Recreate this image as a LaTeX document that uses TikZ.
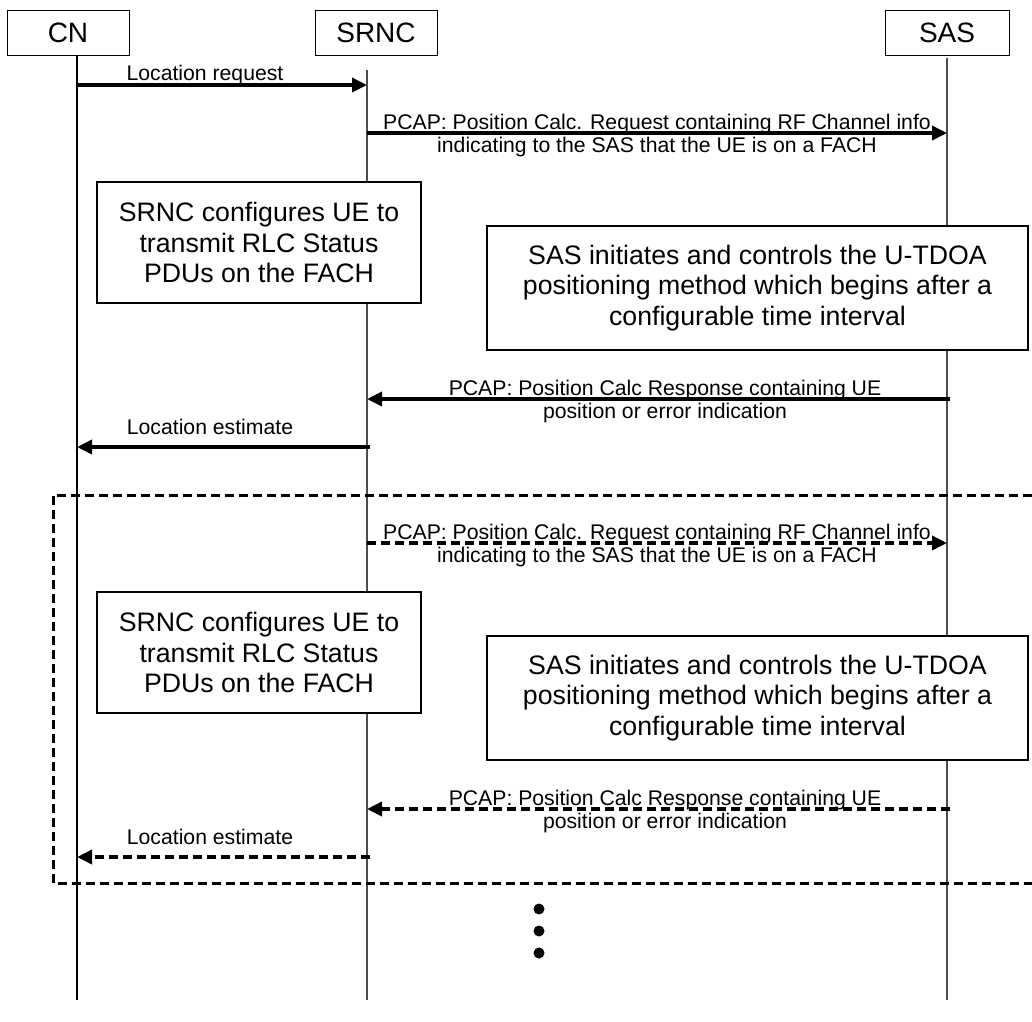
\documentclass[tikz,border=0pt]{standalone}
\usepackage{fontspec}
\setmainfont{Liberation Sans}
\usetikzlibrary{arrows.meta}
\tikzset{
  head/.style={draw, line width=1pt, minimum width=122pt, minimum height=45pt,
    inner sep=0pt, font=\fontsize{28}{32}\selectfont},
  life/.style={line width=1.2pt},
  note/.style={draw, fill=white, line width=1.5pt, inner sep=0pt, align=center,
    font=\fontsize{26.7}{30.5}\selectfont},
  lbl/.style={inner sep=0pt, anchor=base, align=center,
    font=\fontsize{21.2}{23}\selectfont},
  msg/.style={line width=3.5pt, -{Triangle[length=15pt,width=14pt]}},
  dmsg/.style={msg, dash pattern=on 9pt off 5pt},
  frame/.style={line width=3pt, dash pattern=on 9pt off 5pt},
  dot/.style={circle, fill, inner sep=0pt, minimum size=11pt}
}
\begin{document}
\begin{tikzpicture}[x=1pt,y=-1pt]
  \useasboundingbox (0,0) rectangle (1032,1021);
  % entities
  \node[head] (cn) at (68,32.5) {CN};
  \node[head] (srnc) at (376,32.5) {SRNC};
  \node[head, minimum width=124pt] (sas) at (947,32.5) {SAS};
  \coordinate (cntop) at (77,55);
  \coordinate (cnbot) at (77,1000);
  \coordinate (srnctop) at (367,70);
  \coordinate (srncbot) at (367,1000);
  \coordinate (sastop) at (947,58);
  \coordinate (sasbot) at (947,1000);
  \draw[life] (cntop) -- (cnbot);
  \draw[life, black!70] (srnctop) -- (srncbot);
  \draw[life, black!70] (sastop) -- (sasbot);
  % message ends
  \coordinate (a1) at (77,85);
  \coordinate (b1) at (367,85);
  \coordinate (b2) at (367,133);
  \coordinate (c2) at (947,133);
  \coordinate (b3) at (367,399);
  \coordinate (c3) at (950,399);
  \coordinate (a4) at (77,447);
  \coordinate (b4) at (370,447);
  \coordinate (b5) at (367,543);
  \coordinate (c5) at (947,543);
  \coordinate (b6) at (367,809);
  \coordinate (c6) at (950,809);
  \coordinate (a7) at (77,857);
  \coordinate (b7) at (370,857);
  % first round
  \node[note, minimum width=324pt, minimum height=121pt] (cfg1) at (259,242.5)
    {SRNC configures UE to\\transmit RLC Status\\PDUs on the FACH};
  \node[note, minimum width=541pt, minimum height=124pt] (tdoa1) at (757.5,288)
    {SAS initiates and controls the U-TDOA\\positioning method which begins after a\\configurable time interval};
  \draw[msg] (a1) to (b1);
  \node[lbl] (req) at (205,80) {Location request};
  \draw[msg] (b2) to (c2);
  \node[lbl] (calc1) at (657,152)
    {PCAP: Position Calc. Request containing RF Channel info\\indicating to the SAS that the UE is on a FACH};
  \draw[msg] (c3) to (b3);
  \node[lbl] (resp1) at (665,418)
    {PCAP: Position Calc Response containing UE\\position or error indication};
  \draw[msg] (b4) to (a4);
  \node[lbl] (est1) at (210,434) {Location estimate};
  % repeated round
  \draw[frame] (1032,495) -- (53,495) -- (53,883) -- (1032,883);
  \node[note, minimum width=324pt, minimum height=121pt] (cfg2) at (259,652.5)
    {SRNC configures UE to\\transmit RLC Status\\PDUs on the FACH};
  \node[note, minimum width=541pt, minimum height=124pt] (tdoa2) at (757.5,698)
    {SAS initiates and controls the U-TDOA\\positioning method which begins after a\\configurable time interval};
  \draw[dmsg] (b5) to (c5);
  \node[lbl] (calc2) at (657,562)
    {PCAP: Position Calc. Request containing RF Channel info\\indicating to the SAS that the UE is on a FACH};
  \draw[dmsg] (c6) to (b6);
  \node[lbl] (resp2) at (665,828)
    {PCAP: Position Calc Response containing UE\\position or error indication};
  \draw[dmsg] (b7) to (a7);
  \node[lbl] (est2) at (210,844) {Location estimate};
  % and so on
  \node[dot] (d1) at (539,909) {};
  \node[dot] (d2) at (539,931) {};
  \node[dot] (d3) at (539,953) {};
\end{tikzpicture}
\end{document}
